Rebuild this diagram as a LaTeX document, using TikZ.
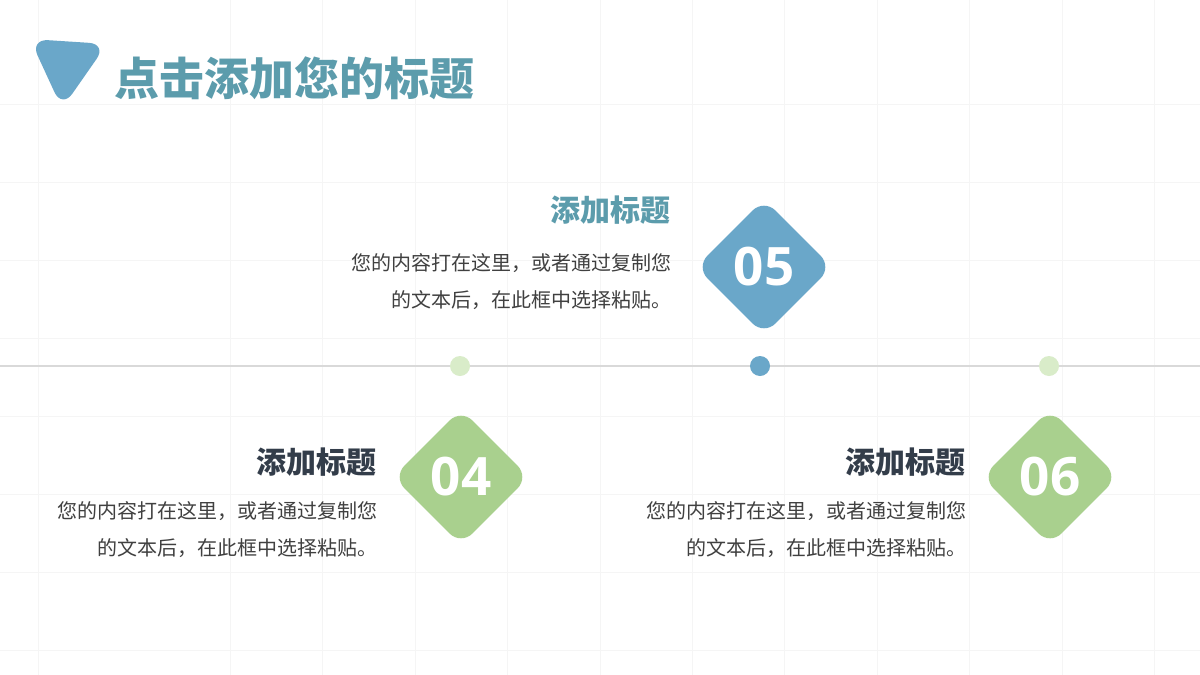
\documentclass[tikz,border=0pt]{standalone}
\usepackage{fontspec}
\setmainfont{Noto Sans CJK SC}
\newfontfamily\numfont{Open Sans}
\usetikzlibrary{shapes.geometric}
\definecolor{tblue}{HTML}{6AA7C9}
\definecolor{ttitle}{HTML}{5C9CAC}
\definecolor{tgreen}{HTML}{A9D08E}
\definecolor{lgreen}{HTML}{D9ECC9}
\definecolor{linec}{HTML}{D9D9D9}
\definecolor{gridc}{HTML}{F5F5F5}
\definecolor{bodyc}{HTML}{404040}
\definecolor{headc}{HTML}{333D4A}
\tikzset{
  gridline/.style={draw=gridc,line width=0.9pt},
  dot/.style={circle,minimum size=20pt,inner sep=0pt},
  dia/.style={diamond,minimum width=136pt,minimum height=136pt,inner sep=0pt,
    rounded corners=16pt,text=white,font=\numfont\bfseries\fontsize{53}{53}\selectfont},
  headtext/.style={anchor=east,inner sep=0pt,font=\bfseries\fontsize{30}{30}\selectfont},
  bodytext/.style={anchor=east,inner sep=0pt,align=right,text=bodyc,font=\fontsize{20}{37}\selectfont},
}
\begin{document}
\begin{tikzpicture}[x=1pt,y=-1pt]
\useasboundingbox (0,0) rectangle (1200,675);
\fill[white] (0,0) rectangle (1200,675);
% faint background grid
\foreach \x in {38,230,322,415,507,600,692,784,877,969,1062,1154}
  \draw[gridline] (\x,0) -- (\x,675);
\foreach \y in {104,182,260,338,416,494,572,650}
  \draw[gridline] (0,\y) -- (1200,\y);
% title
\fill[tblue, rounded corners=18pt] (30,39) -- (107,44) -- (62,108.5) -- cycle;
\node[anchor=west,inner sep=0pt,text=ttitle,font=\bfseries\fontsize{45}{45}\selectfont] (title) at (114,78) {点击添加您的标题};
% timeline
\coordinate (tl) at (0,366);
\coordinate (tr) at (1200,366);
\draw[linec,line width=2pt] (tl) -- (tr);
\node[dot,fill=lgreen] (d4) at (460,366) {};
\node[dot,fill=tblue] (d5) at (760,366) {};
\node[dot,fill=lgreen] (d6) at (1049,366) {};
% diamonds
\node[dia,fill=tblue] (n5) at (764,267) {05};
\node[dia,fill=tgreen] (n4) at (461,477) {04};
\node[dia,fill=tgreen] (n6) at (1050,477) {06};
% texts
\node[headtext,text=ttitle] (h5) at (671,210) {添加标题};
\node[bodytext] (b5) at (672,281.5) {您的内容打在这里，或者通过复制您\\的文本后，在此框中选择粘贴。};
\node[headtext,text=headc] (h4) at (377,462) {添加标题};
\node[bodytext] (b4) at (378,530) {您的内容打在这里，或者通过复制您\\的文本后，在此框中选择粘贴。};
\node[headtext,text=headc] (h6) at (966,462) {添加标题};
\node[bodytext] (b6) at (967,530) {您的内容打在这里，或者通过复制您\\的文本后，在此框中选择粘贴。};
\end{tikzpicture}
\end{document}
